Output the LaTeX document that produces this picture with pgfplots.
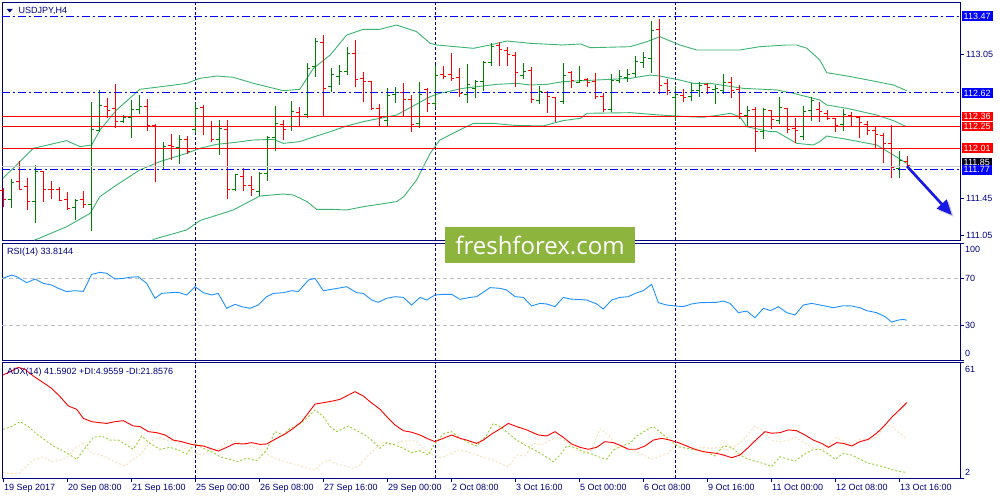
\documentclass[border=0pt]{standalone}
\usepackage{pgfplots}
\pgfplotsset{compat=1.18}
\usepackage{pgfplotstable}
\usetikzlibrary{arrows.meta}
\usepackage{fontspec}
\setmainfont{Liberation Sans}
\newfontfamily\wmfont{Open Sans}
\definecolor{mtnavy}{RGB}{0,0,128}
\definecolor{mtgreen}{RGB}{0,128,0}
\definecolor{mtred}{RGB}{255,0,0}
\definecolor{mtblue}{RGB}{0,0,255}
\definecolor{bbgreen}{RGB}{60,179,113}
\definecolor{rsiblue}{RGB}{30,144,255}
\definecolor{diplus}{RGB}{154,205,50}
\definecolor{diminus}{RGB}{245,222,179}
\definecolor{wmgreen}{RGB}{141,180,60}
\definecolor{lvlgray}{RGB}{205,205,205}
\definecolor{arrowblue}{RGB}{25,25,230}

\pgfplotstableread{
i o h l c
0 111.540 111.566 111.356 111.437
1 111.437 111.665 111.352 111.629
2 111.636 111.864 111.548 111.548
3 111.584 111.677 111.327 111.419
4 111.422 111.824 111.187 111.747
5 111.747 111.758 111.419 111.555
6 111.555 111.647 111.448 111.548
7 111.548 111.577 111.430 111.433
8 111.444 111.522 111.327 111.345
9 111.349 111.444 111.216 111.430
10 111.437 111.533 111.345 111.386
11 111.386 112.524 111.098 112.211
12 112.200 112.653 112.192 112.483
13 112.472 112.561 112.340 112.424
14 112.443 112.719 112.236 112.303
15 112.303 112.376 112.292 112.351
16 112.351 112.542 112.126 112.432
17 112.432 112.597 112.384 112.468
18 112.468 112.549 112.203 112.262
19 112.262 112.277 111.640 111.805
20 111.805 112.082 111.769 112.026
21 112.041 112.166 111.879 112.026
22 112.015 112.155 111.835 112.100
23 112.100 112.144 111.945 111.971
24 112.218 112.513 112.174 112.450
25 112.461 112.487 112.155 112.244
26 112.244 112.314 112.082 112.107
27 112.100 112.321 111.938 112.225
28 112.218 112.321 111.452 111.555
29 111.548 111.724 111.540 111.721
30 111.695 111.794 111.540 111.596
31 111.592 111.702 111.485 111.548
32 111.529 111.750 111.481 111.732
33 111.732 112.144 111.647 112.126
34 112.130 112.476 111.982 112.277
35 112.266 112.321 112.100 112.218
36 112.247 112.535 112.203 112.413
37 112.406 112.461 112.255 112.358
38 112.380 112.955 112.340 112.892
39 112.910 113.223 112.793 113.187
40 113.179 113.264 112.365 112.671
41 112.689 112.892 112.634 112.829
42 112.800 112.929 112.708 112.859
43 112.855 113.131 112.818 113.058
44 113.058 113.205 112.682 112.774
45 112.781 112.855 112.520 112.745
46 112.741 112.752 112.432 112.450
47 112.450 112.498 112.240 112.347
48 112.310 112.671 112.255 112.590
49 112.608 112.682 112.513 112.623
50 112.627 112.726 112.351 112.542
51 112.549 112.597 112.192 112.273
52 112.284 112.745 112.229 112.608
53 112.653 112.671 112.413 112.505
54 112.505 112.925 112.461 112.815
55 112.826 112.918 112.778 112.807
56 112.829 113.058 112.756 112.781
57 112.793 112.892 112.572 112.616
58 112.601 112.940 112.513 112.708
59 112.671 112.763 112.561 112.745
60 112.745 112.973 112.645 112.955
61 112.955 113.168 112.918 113.131
62 113.139 113.187 112.921 113.095
63 113.087 113.131 112.921 113.047
64 113.039 113.076 112.682 112.844
65 112.818 112.947 112.778 112.855
66 112.866 112.910 112.513 112.542
67 112.535 112.697 112.498 112.634
68 112.627 112.641 112.402 112.579
69 112.568 112.572 112.303 112.358
70 112.524 112.947 112.498 112.818
71 112.844 112.866 112.671 112.756
72 112.737 112.918 112.726 112.752
73 112.763 112.785 112.682 112.734
74 112.745 112.844 112.557 112.579
75 112.579 112.616 112.409 112.439
76 112.432 112.829 112.406 112.752
77 112.759 112.874 112.726 112.807
78 112.789 112.881 112.745 112.822
79 112.837 113.028 112.800 112.966
80 112.955 113.076 112.892 113.014
81 113.002 113.419 112.844 113.308
82 113.316 113.437 112.608 112.704
83 112.726 112.778 112.597 112.645
84 112.572 112.697 112.314 112.608
85 112.597 112.660 112.524 112.572
86 112.579 112.726 112.535 112.649
87 112.645 112.745 112.579 112.697
88 112.708 112.726 112.608 112.682
89 112.653 112.708 112.498 112.671
90 112.645 112.829 112.605 112.734
91 112.734 112.793 112.568 112.645
92 112.653 112.708 112.328 112.395
93 112.376 112.476 112.255 112.424
94 112.432 112.461 111.971 112.192
95 112.192 112.450 112.107 112.439
96 112.424 112.432 112.218 112.321
97 112.310 112.579 112.277 112.461
98 112.450 112.457 112.181 112.218
99 112.229 112.340 112.071 112.203
100 112.144 112.476 112.100 112.413
101 112.424 112.572 112.314 112.535
102 112.432 112.524 112.303 112.413
103 112.395 112.432 112.321 112.340
104 112.340 112.340 112.192 112.262
105 112.266 112.439 112.203 112.384
106 112.373 112.406 112.258 112.358
107 112.347 112.358 112.119 112.292
108 112.266 112.310 112.155 112.203
109 112.203 112.255 112.008 112.166
110 112.155 112.181 111.850 112.063
111 112.056 112.262 111.677 111.798
112 111.787 111.979 111.677 111.868
113 111.861 111.923 111.805 111.813
}\ohlc

\pgfplotsset{
  mt/.style={scale only axis, width=958pt, xmin=-0.125, xmax=119.625,
    axis line style={mtnavy, line width=0.9pt}, clip=false,
    tick style={mtnavy, line width=0.8pt}, tick align=outside, major tick length=4pt,
    xtick=\empty, ytick pos=right, yticklabels={},
    font=\fontsize{9}{10}\selectfont},
  upbar/.style={mtgreen, line width=1pt, forget plot, restrict expr to domain={\thisrow{c}-\thisrow{o}}{0:10}},
  dnbar/.style={mtred, line width=1pt, forget plot, restrict expr to domain={\thisrow{c}-\thisrow{o}}{-10:0}},
  lvl/.style={line width=0.9pt, forget plot},
  sep/.style={mtnavy, line width=0.8pt, dash pattern=on 3pt off 2pt, forget plot},
}

\begin{document}
\begin{tikzpicture}
\path[use as bounding box] (0pt,0pt) rectangle (1000pt,500pt);

% ---------------- main price panel ----------------
\begin{axis}[mt, at={(2pt,498pt)}, anchor=north west, height=238pt,
  ymin=110.995, ymax=113.625, ytick={111.05,111.45,113.05}]
\addplot[sep] coordinates {(24,110.995) (24,113.625)};
\addplot[sep] coordinates {(54,110.995) (54,113.625)};
\addplot[sep] coordinates {(84,110.995) (84,113.625)};
% Bollinger bands
\addplot[bbgreen, line width=0.9pt] coordinates {
(0,111.677) (3.79,112.008) (7.96,112.093) (9.63,112.026) (11.08,112.045) (12.13,112.211) (14.2,112.432) (17.1,112.660) (20.46,112.697) (22.96,112.726) (24.6,112.781) (26.7,112.807) (28.8,112.793) (31.3,112.726) (35.04,112.645) (37.1,112.660) (38.8,112.892) (40.9,113.039) (42.96,113.260) (45.04,113.323) (47.1,113.323) (49.2,113.371) (51.7,113.297) (53.4,113.168) (54.2,113.150) (58.8,113.113) (60.9,113.150) (63,113.194) (65.9,113.168) (70,113.150) (72.2,113.161) (73.4,113.120) (78.4,113.131) (80.5,113.187) (82.1,113.242) (84.6,113.150) (86.7,113.095) (92.1,113.095) (94.6,113.131) (97.96,113.150) (99.2,113.150) (100.5,113.113) (102.1,112.984) (102.96,112.844) (105.5,112.807) (107.1,112.781) (111.3,112.708) (112.96,112.645)};
\addplot[bbgreen, line width=0.9pt] coordinates {
(3.9,110.995) (4.2,111.002) (7.96,111.142) (10.9,111.290) (12.1,111.474) (14.2,111.603) (17.1,111.769) (19.6,111.861) (22.96,111.953) (24.6,112.008) (26.7,112.052) (28.8,112.071) (31.3,112.100) (33.8,112.107) (35.04,112.063) (37.1,112.082) (39.2,112.144) (40.9,112.192) (42.96,112.255) (45.04,112.303) (49.2,112.376) (53.4,112.579) (54.6,112.616) (57.5,112.671) (61.7,112.715) (64.2,112.726) (65.9,112.708) (68,112.715) (70,112.745) (74.2,112.763) (78.4,112.781) (80.9,112.818) (82.1,112.807) (84.6,112.763) (86.3,112.726) (88.4,112.726) (92.5,112.671) (96.7,112.653) (98.8,112.616) (102.1,112.542) (102.96,112.487) (105.5,112.450) (109.2,112.376) (111.3,112.314) (112.75,112.255)};
\addplot[bbgreen, line width=0.9pt] coordinates {
(18.7,110.995) (18.8,111.002) (22.96,111.106) (24.6,111.209) (28.8,111.327) (32.1,111.481) (35.04,111.503) (36.3,111.492) (38,111.419) (39.2,111.334) (40.9,111.334) (42.96,111.327) (45.04,111.363) (49.2,111.419) (50.1,111.474) (51.7,111.658) (53.4,111.953) (54.6,112.100) (57.5,112.229) (58.8,112.284) (61.3,112.284) (63.8,112.262) (67.5,112.255) (70,112.314) (72.2,112.340) (73,112.395) (78.4,112.402) (82.1,112.376) (85.5,112.358) (87.5,112.351) (89.6,112.376) (90.9,112.395) (92.1,112.358) (92.96,112.247) (95.9,112.192) (96.7,112.192) (99.2,112.063) (101.3,112.045) (102.1,112.082) (102.96,112.144) (105.5,112.107) (109.2,112.045) (111.3,111.934) (112.96,111.842)};
% OHLC bars (high-low stems, open tick left, close tick right)
\addplot[upbar, quiver={u=0, v=\thisrow{h}-\thisrow{l}}] table[x=i, y=l] {\ohlc};
\addplot[upbar, quiver={u=0.4, v=0}] table[x expr=\thisrow{i}-0.4, y=o] {\ohlc};
\addplot[upbar, quiver={u=0.4, v=0}] table[x=i, y=c] {\ohlc};
\addplot[dnbar, quiver={u=0, v=\thisrow{h}-\thisrow{l}}] table[x=i, y=l] {\ohlc};
\addplot[dnbar, quiver={u=0.4, v=0}] table[x expr=\thisrow{i}-0.4, y=o] {\ohlc};
\addplot[dnbar, quiver={u=0.4, v=0}] table[x=i, y=c] {\ohlc};
% levels
\addplot[lvl, lvlgray] coordinates {(-0.125,111.813) (119.625,111.813)};
\addplot[lvl, mtred] coordinates {(-0.125,112.36) (119.625,112.36)};
\addplot[lvl, mtred] coordinates {(-0.125,112.25) (119.625,112.25)};
\addplot[lvl, mtred] coordinates {(-0.125,112.01) (119.625,112.01)};
\addplot[lvl, mtblue, dash pattern=on 8pt off 3pt on 2pt off 3pt] coordinates {(-0.125,113.47) (119.625,113.47)};
\addplot[lvl, mtblue, dash pattern=on 8pt off 3pt on 2pt off 3pt] coordinates {(-0.125,112.62) (119.625,112.62)};
\addplot[lvl, mtblue, dash pattern=on 8pt off 3pt on 2pt off 3pt] coordinates {(-0.125,111.77) (119.625,111.77)};
% forecast arrow
\draw[black!35, opacity=0.5, line width=2.6pt, -{Triangle[length=15pt,width=13pt]}] ([xshift=2pt,yshift=-2pt]axis cs:113,111.81) -- ([xshift=2pt,yshift=-2pt]axis cs:118.6,111.271);
\draw[arrowblue, line width=2.6pt, -{Triangle[length=15pt,width=13pt]}] (axis cs:113,111.81) -- (axis cs:118.6,111.271);
% right scale labels
\begin{scope}[every node/.style={anchor=west, inner sep=0pt, font=\fontsize{9}{10}\selectfont}]
\node[text=mtnavy, xshift=6pt] at (axis cs:119.625,113.05) {113.05};
\node[text=mtnavy, xshift=6pt] at (axis cs:119.625,111.45) {111.45};
\node[text=mtnavy, xshift=6pt] at (axis cs:119.625,111.05) {111.05};
\end{scope}
\begin{scope}[every node/.style={anchor=west, inner xsep=2pt, inner ysep=0pt, minimum height=9.5pt, xshift=1.5pt, text=white, font=\fontsize{9}{10}\selectfont}]
\node[fill=mtblue] at (axis cs:119.625,113.47) {113.47};
\node[fill=mtblue] at (axis cs:119.625,112.62) {112.62};
\node[fill=mtred] at (axis cs:119.625,112.36) {112.36};
\node[fill=mtred] at (axis cs:119.625,112.25) {112.25};
\node[fill=mtred] at (axis cs:119.625,112.01) {112.01};
\node[fill=black!80!mtnavy] at (axis cs:119.625,111.85) {111.85};
\node[fill=mtblue] at (axis cs:119.625,111.77) {111.77};
\end{scope}
% title
\fill[mtnavy] ([xshift=4.7pt,yshift=-7pt]rel axis cs:0,1) -- ++(6pt,0pt) -- ++(-3pt,-3.5pt) -- cycle;
\node[anchor=west, inner sep=0pt, text=mtnavy] at ([xshift=16.5pt,yshift=-8.7pt]rel axis cs:0,1) {USDJPY,H4};
\end{axis}

% ---------------- RSI panel ----------------
\begin{axis}[mt, at={(2pt,256.9pt)}, anchor=north west, height=117.5pt,
  ymin=0, ymax=100, ytick={0,30,70,100}]
\addplot[sep] coordinates {(24,0) (24,100)};
\addplot[sep] coordinates {(54,0) (54,100)};
\addplot[sep] coordinates {(84,0) (84,100)};
\addplot[lvl, black!25, dash pattern=on 4pt off 3pt, line width=0.8pt] coordinates {(-0.125,70) (119.625,70)};
\addplot[lvl, black!25, dash pattern=on 4pt off 3pt, line width=0.8pt] coordinates {(-0.125,30) (119.625,30)};
\addplot[rsiblue, line width=0.9pt] coordinates {
(0,70) (1.08,72.8) (1.71,71.4) (2.96,66.3) (4.0,69.4) (5.04,65.7) (6.08,64.3) (6.92,61.5) (7.96,58.7) (9.0,59.5) (10.04,58.9) (11.08,73.4) (12.13,75.1) (12.96,74.3) (14.0,69.4) (15.04,70) (15.88,70.9) (16.9,71.4) (17.96,65.7) (19.0,53.0) (19.83,57.2) (20.88,57.8) (21.9,58.1) (22.96,55.8) (24.0,62.9) (25.04,57.8) (26.08,55.8) (26.9,57.2) (27.96,44.5) (29.0,47.9) (29.83,45.9) (30.88,44.5) (31.9,47.3) (32.96,54.4) (33.8,57.2) (35.04,57.8) (36.08,59.5) (36.9,58.7) (38.2,68.6) (39.0,70) (40.04,59.5) (41.3,60.9) (42.96,62.9) (44.2,57.8) (45.04,57.2) (46.08,51.6) (46.9,49.6) (47.96,53.0) (49.0,54.4) (50.04,53.8) (51.08,47.3) (52.13,53.8) (52.96,51.6) (54.0,55.8) (55.04,56.4) (56.08,56.4) (57.13,52.1) (58.38,53.8) (59.2,54.4) (60.88,62.1) (62.13,61.5) (62.96,60.1) (64.0,54.4) (65.04,53.8) (66.08,46.5) (67.13,48.7) (67.96,48.2) (69.0,45.9) (70.04,53.8) (70.88,52.4) (72.96,51.6) (74.21,48.2) (75.04,43.9) (76.08,51.6) (77.13,53.8) (78.17,54.4) (79.0,57.2) (80.04,59.5) (81.08,64.9) (81.92,49.3) (82.96,47.3) (84.0,46.5) (85.04,45.9) (86.08,48.2) (87.13,49.3) (89.2,49.6) (90.04,50.7) (90.88,48.7) (91.92,40.8) (92.96,42.2) (94.0,36.5) (95.04,44.5) (95.96,42.5) (96.92,45.9) (97.96,40.8) (99.0,38.8) (100.04,47.3) (101.08,48.7) (102.13,47.3) (103.79,45.0) (105.04,46.7) (106.08,46.5) (107.13,45.0) (107.96,42.5) (109.2,40.8) (110.25,37.4) (111.08,32.8) (111.92,34.5) (112.54,35.1) (112.96,34.3)};
\begin{scope}[every node/.style={anchor=west, inner sep=0pt, text=mtnavy, xshift=5pt, font=\fontsize{9}{10}\selectfont}]
\node at (axis cs:119.625,95) {100};
\node at (axis cs:119.625,70) {70};
\node at (axis cs:119.625,30) {30};
\node at (axis cs:119.625,6.5) {0};
\end{scope}
\node[anchor=west, inner sep=0pt, text=mtnavy] at ([xshift=5pt,yshift=-8.6pt]rel axis cs:0,1) {RSI(14) 33.8144};
\end{axis}

% ---------------- ADX panel ----------------
\begin{axis}[mt, at={(2pt,137.3pt)}, anchor=north west, height=115.6pt,
  ymin=2, ymax=61, ytick={2,61},
  xtick={0,8,16,24,32,40,48,56,64,72,80,88,96,104,112},
  xticklabels={19 Sep 2017, 20 Sep 08:00, 21 Sep 16:00, 25 Sep 00:00, 26 Sep 08:00, 27 Sep 16:00, 29 Sep 00:00, 2 Oct 08:00, 3 Oct 16:00, 5 Oct 00:00, 6 Oct 08:00, 9 Oct 16:00, 11 Oct 00:00, 12 Oct 08:00, 13 Oct 16:00},
  xtick pos=bottom,
  xticklabel style={anchor=north west, inner sep=0pt, xshift=1pt, yshift=-2pt, text=mtnavy}]
\addplot[sep] coordinates {(24,2) (24,61)};
\addplot[sep] coordinates {(54,2) (54,61)};
\addplot[sep] coordinates {(84,2) (84,61)};
% -DI
\addplot[diminus, line width=0.9pt, dash pattern=on 2pt off 2pt] coordinates {
(0,4.9) (0.88,4.5) (1.92,4.2) (2.96,8.3) (4.0,11.7) (5.04,13.0) (6.08,10.5) (7.13,11.3) (7.96,12.7) (9.0,17.3) (10.04,19.8) (11.08,14.7) (12.13,13.9) (13.38,11.7) (14.42,9.6) (15.25,8.3) (16.29,11.7) (17.33,14.7) (18.38,20.7) (19.42,22.9) (20.46,21.5) (21.71,20.7) (22.75,17.3) (23.79,15.1) (24.83,13.9) (25.88,16.4) (27.13,17.3) (28.17,21.5) (29.21,20.7) (30.25,19.5) (31.29,17.8) (32.54,15.6) (33.58,13.0) (34.63,11.3) (35.88,9.6) (36.92,8.8) (37.96,7.1) (39.0,6.2) (39.83,9.6) (40.67,11.3) (41.71,9.3) (42.75,8.3) (43.79,7.1) (44.63,8.8) (45.67,13.9) (46.71,17.8) (47.54,20.2) (48.58,19.0) (49.83,20.7) (50.88,21.5) (51.71,20.7) (52.75,16.4) (53.79,13.9) (54.83,12.5) (55.88,14.4) (56.92,16.4) (57.96,15.6) (59.2,13.9) (60.46,12.2) (61.29,11.3) (62.13,9.6) (63.17,7.9) (64.2,13.9) (65.25,13.4) (66.29,19.8) (67.33,19.0) (68.38,21.5) (69.42,22.9) (70.46,20.7) (71.5,16.8) (72.54,14.7) (73.58,16.4) (74.63,27.5) (75.67,24.1) (76.71,17.8) (77.75,17.8) (78.79,16.4) (79.83,14.4) (81.08,11.7) (82.13,13.4) (83.17,14.7) (84.21,20.2) (85.25,19.0) (86.29,16.4) (87.33,17.8) (88.38,17.3) (89.42,17.8) (90.46,16.4) (91.5,18.5) (92.54,21.5) (93.38,25.8) (94.0,28.7) (95.04,26.3) (96.08,21.5) (97.13,20.7) (98.17,21.5) (99.2,22.9) (100.25,19.8) (101.29,17.3) (102.33,16.4) (103.38,19.8) (104.21,22.9) (105.25,20.2) (106.29,19.0) (107.13,21.9) (108.17,21.5) (109.2,22.9) (110.25,29.2) (111.08,28.7) (112.13,24.9) (112.96,21.9)};
% +DI
\addplot[diplus, line width=0.9pt, dash pattern=on 2pt off 2pt] coordinates {
(0,27.0) (1.08,28.4) (2.13,30.9) (3.17,28.4) (4.21,24.6) (5.25,21.5) (6.29,18.5) (7.33,16.4) (8.38,13.9) (9.21,11.7) (10.25,17.3) (11.29,22.9) (12.33,23.6) (13.38,21.5) (14.42,21.5) (15.46,19.0) (16.29,16.8) (17.33,23.6) (18.38,19.8) (19.63,16.8) (20.88,17.8) (21.92,16.4) (22.96,14.4) (24.0,19.8) (25.04,17.3) (26.29,15.1) (27.13,13.0) (28.38,11.7) (29.21,10.5) (30.46,12.2) (31.71,11.0) (32.96,16.4) (34.0,25.8) (35.04,24.1) (35.88,27.5) (36.92,29.2) (37.96,32.6) (39.0,36.9) (40.04,33.5) (40.88,28.4) (41.71,25.8) (43.17,28.7) (44.21,26.3) (45.25,24.1) (46.08,21.5) (47.13,17.3) (47.96,20.2) (49.0,19.0) (50.04,17.3) (51.08,15.1) (52.13,16.1) (53.17,13.9) (54.0,19.8) (55.04,24.6) (56.08,25.8) (57.13,22.4) (58.38,19.8) (59.2,18.5) (60.46,24.1) (61.29,30.0) (62.13,28.4) (63.17,24.9) (64.2,21.5) (65.25,19.0) (66.29,16.8) (67.54,13.9) (68.79,10.5) (69.63,13.9) (70.46,18.5) (71.5,17.8) (72.54,15.6) (73.58,14.4) (74.63,12.7) (75.46,11.7) (76.29,16.4) (77.33,18.5) (78.38,19.8) (79.2,23.6) (80.46,26.7) (81.29,28.4) (82.33,24.9) (83.38,21.5) (84.42,18.1) (85.46,17.3) (86.71,16.4) (87.75,15.6) (89.0,13.4) (90.04,18.5) (91.08,17.8) (92.13,13.9) (93.17,11.7) (94.2,10.5) (95.25,9.3) (96.08,8.0) (97.13,13.0) (98.17,11.7) (99.0,10.8) (100.04,13.9) (101.08,16.4) (102.13,16.8) (103.17,14.4) (104.0,11.7) (105.04,14.7) (106.08,13.9) (106.92,12.2) (107.96,10.0) (109.2,8.8) (110.25,7.6) (111.29,6.2) (112.13,5.4) (112.96,5.0)};
% ADX
\addplot[mtred, line width=0.9pt] coordinates {
(0,54.7) (0.88,56.4) (1.92,58.6) (2.75,57.6) (3.79,54.2) (5.04,50.8) (6.08,47.9) (7.13,43.7) (8.17,38.9) (9.21,37.2) (10.04,32.6) (11.08,30.9) (12.96,30.0) (14.0,30.9) (15.04,31.4) (16.29,28.7) (17.13,28.4) (18.17,25.8) (19.21,25.3) (20.25,24.1) (21.29,21.5) (22.33,20.7) (23.38,19.5) (24.21,18.8) (25.04,18.5) (25.88,17.3) (26.92,15.9) (27.96,17.8) (29.0,19.8) (30.04,19.5) (31.08,20.2) (32.13,19.3) (32.96,19.5) (34.21,22.4) (35.25,24.6) (36.29,27.5) (37.33,30.9) (38.38,36.5) (39.0,39.9) (40.04,40.6) (41.29,41.5) (42.13,42.3) (43.17,44.5) (44.0,46.2) (45.04,44.0) (45.88,41.1) (47.13,37.2) (48.17,32.6) (49.0,29.2) (50.04,26.3) (51.08,25.5) (52.13,24.1) (52.96,22.4) (54.0,20.7) (55.04,22.4) (56.08,24.1) (57.13,22.4) (57.96,21.5) (59.2,19.8) (60.04,21.5) (61.08,24.6) (62.13,27.2) (63.17,30.0) (64.2,28.4) (65.46,26.7) (66.92,24.1) (67.96,23.6) (69.0,25.8) (70.04,22.9) (71.08,19.5) (72.13,17.8) (73.17,16.8) (74.2,17.8) (75.25,20.7) (76.29,20.2) (77.33,18.5) (78.17,16.8) (79.2,16.8) (80.25,18.5) (81.29,21.5) (82.33,22.4) (83.38,21.5) (84.42,20.2) (85.46,18.5) (86.5,16.8) (87.54,15.6) (89.2,14.7) (90.04,13.9) (91.08,12.5) (92.13,13.9) (93.17,17.8) (94.2,21.9) (95.25,25.8) (96.08,25.0) (97.13,25.3) (98.17,26.7) (99.2,26.3) (100.25,24.1) (101.29,21.5) (102.33,19.8) (103.17,17.8) (104.21,20.2) (105.04,19.8) (106.08,18.5) (107.13,20.7) (108.17,21.9) (109.2,25.0) (110.25,29.2) (111.08,33.1) (112.13,37.2) (112.96,40.6)};
\begin{scope}[every node/.style={anchor=west, inner sep=0pt, text=mtnavy, xshift=5pt, font=\fontsize{9}{10}\selectfont}]
\node at (axis cs:119.625,57.6) {61};
\node at (axis cs:119.625,4.85) {2};
\end{scope}
\node[anchor=west, inner sep=0pt, text=mtnavy] at ([xshift=5pt,yshift=-9.3pt]rel axis cs:0,1) {ADX(14) 41.5902 +DI:4.9559 -DI:21.8576};
\end{axis}

% watermark
\node[fill=wmgreen, text=white, minimum width=190pt, minimum height=36pt, inner sep=0pt, font=\wmfont\fontsize{24}{26}\selectfont] at (540pt,255pt) {freshforex.com};
\end{tikzpicture}
\end{document}
